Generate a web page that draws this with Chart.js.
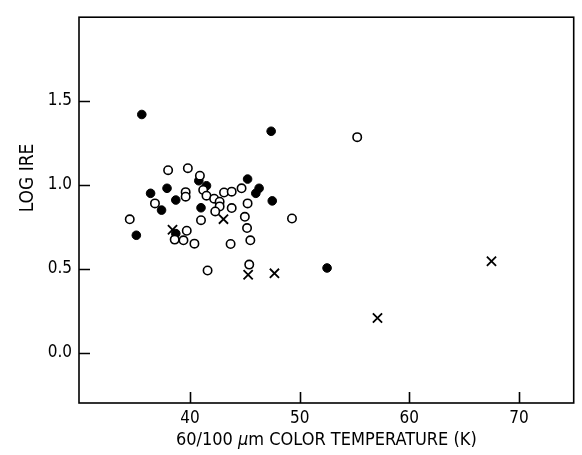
<!DOCTYPE html>
<html>
<head>
<meta charset="utf-8">
<script src="https://cdn.jsdelivr.net/npm/chart.js@4/dist/chart.umd.min.js"></script>
<style>
  html, body { margin: 0; padding: 0; background: #fff; }
  #wrap { width: 582px; height: 455px; }
</style>
</head>
<body>
<div id="wrap"><canvas id="c" width="582" height="455"></canvas></div>
<script>
// Axis tick values
const xTicks = [40, 50, 60, 70];
const yTicks = [0.0, 0.5, 1.0, 1.5];

// Filled circles
const filledX = [35.6, 47.4, 40.8, 41.5, 45.25, 46.3, 46.0, 47.5, 36.4, 37.9, 38.7, 37.4, 41.0, 35.1, 38.7, 52.5];
const filledY = [1.42, 1.32, 1.025, 0.995, 1.035, 0.98, 0.95, 0.905, 0.95, 0.98, 0.91, 0.85, 0.864, 0.70, 0.71, 0.505];

// Open circles
const openX = [38.0, 39.8, 40.9, 39.6, 39.6, 41.2, 41.5, 42.2, 42.7, 42.7, 42.3, 43.1, 43.8, 44.7, 45.25, 43.8,
               45.0, 45.2, 36.8, 34.5, 41.0, 49.3, 39.7, 38.6, 39.4, 40.4, 43.7, 45.5, 41.6, 45.4, 55.25];
const openY = [1.088, 1.10, 1.055, 0.957, 0.93, 0.97, 0.936, 0.918, 0.90, 0.872, 0.842, 0.955, 0.96, 0.98, 0.89, 0.862,
               0.81, 0.743, 0.89, 0.795, 0.79, 0.80, 0.727, 0.674, 0.67, 0.65, 0.648, 0.67, 0.49, 0.525, 1.285];

// Crosses
const crossX = [38.4, 43.05, 45.3, 47.7, 57.1, 67.5];
const crossY = [0.733, 0.796, 0.465, 0.473, 0.207, 0.545];

const xTitle1 = "60/100 ";
const xTitleMu = "\u03bc";
const xTitle2 = "m COLOR TEMPERATURE (K)";
const yTitle = "LOG IRE";

const FONT = "'DejaVu Sans Condensed', 'DejaVu Sans', sans-serif";

function pts(xs, ys) { return xs.map((v, i) => ({ x: v, y: ys[i] })); }

const framePlugin = {
  id: 'frame',
  afterDraw(chart) {
    const { ctx, chartArea: a, scales: { x, y } } = chart;
    ctx.save();
    ctx.strokeStyle = '#000';
    ctx.lineWidth = 1.6;
    ctx.strokeRect(a.left, a.top, a.right - a.left, a.bottom - a.top);
    ctx.beginPath();
    xTicks.forEach(v => {
      const px = Math.round(x.getPixelForValue(v)) + 0.5;
      ctx.moveTo(px, a.bottom);
      ctx.lineTo(px, a.bottom - 11);
    });
    yTicks.forEach(v => {
      const py = Math.round(y.getPixelForValue(v)) + 0.5;
      ctx.moveTo(a.left, py);
      ctx.lineTo(a.left + 11, py);
    });
    ctx.stroke();

    // Axis titles
    ctx.fillStyle = '#000';
    ctx.textBaseline = 'alphabetic';
    ctx.textAlign = 'left';
    const nf = "18px " + FONT;
    const itf = "italic 18px " + FONT;
    ctx.font = nf; const w1 = ctx.measureText(xTitle1).width; const w3 = ctx.measureText(xTitle2).width;
    ctx.font = itf; const w2 = ctx.measureText(xTitleMu).width;
    const total = w1 + w2 + w3;
    let sx = (a.left + a.right) / 2 - total / 2;
    const by = 445;
    ctx.font = nf; ctx.fillText(xTitle1, sx, by);
    ctx.font = itf; ctx.fillText(xTitleMu, sx + w1, by);
    ctx.font = nf; ctx.fillText(xTitle2, sx + w1 + w2, by);

    ctx.translate(33, 178);
    ctx.rotate(-Math.PI / 2);
    ctx.textAlign = 'center';
    ctx.font = "19px " + FONT;
    ctx.fillText(yTitle, 0, 0);
    ctx.restore();
  }
};

new Chart(document.getElementById('c'), {
  type: 'scatter',
  data: {
    datasets: [
      { label: 'open', data: pts(openX, openY), pointStyle: 'circle', pointRadius: 4.2, pointBorderWidth: 1.6,
        pointBackgroundColor: '#fff', pointBorderColor: '#000' },
      { label: 'filled', data: pts(filledX, filledY), pointStyle: 'circle', pointRadius: 4.3, pointBorderWidth: 1,
        pointBackgroundColor: '#000', pointBorderColor: '#000' },
      { label: 'cross', data: pts(crossX, crossY), pointStyle: 'crossRot', pointRadius: 6.5, pointBorderWidth: 1.8,
        pointBackgroundColor: '#000', pointBorderColor: '#000' }
    ]
  },
  options: {
    responsive: false,
    animation: false,
    events: [],
    layout: { padding: { top: 13, right: 4, left: 0, bottom: 0 } },
    plugins: { legend: { display: false }, tooltip: { enabled: false } },
    scales: {
      x: {
        type: 'linear', min: 29.87, max: 75.0,
        grid: { display: false, drawTicks: false }, border: { display: false },
        afterBuildTicks: s => { s.ticks = xTicks.map(v => ({ value: v })); },
        afterFit: s => { s.height = 52; },
        ticks: { color: '#000', padding: 5, font: { family: FONT, size: 17 }, callback: v => String(v), maxRotation: 0 }
      },
      y: {
        type: 'linear', min: -0.3, max: 2.0,
        grid: { display: false, drawTicks: false }, border: { display: false },
        afterBuildTicks: s => { s.ticks = yTicks.map(v => ({ value: v })); },
        afterFit: s => { s.width = 79; },
        ticks: { color: '#000', padding: 7, font: { family: FONT, size: 17 }, callback: v => Number(v).toFixed(1) }
      }
    }
  },
  plugins: [framePlugin]
});
</script>
</body>
</html>
